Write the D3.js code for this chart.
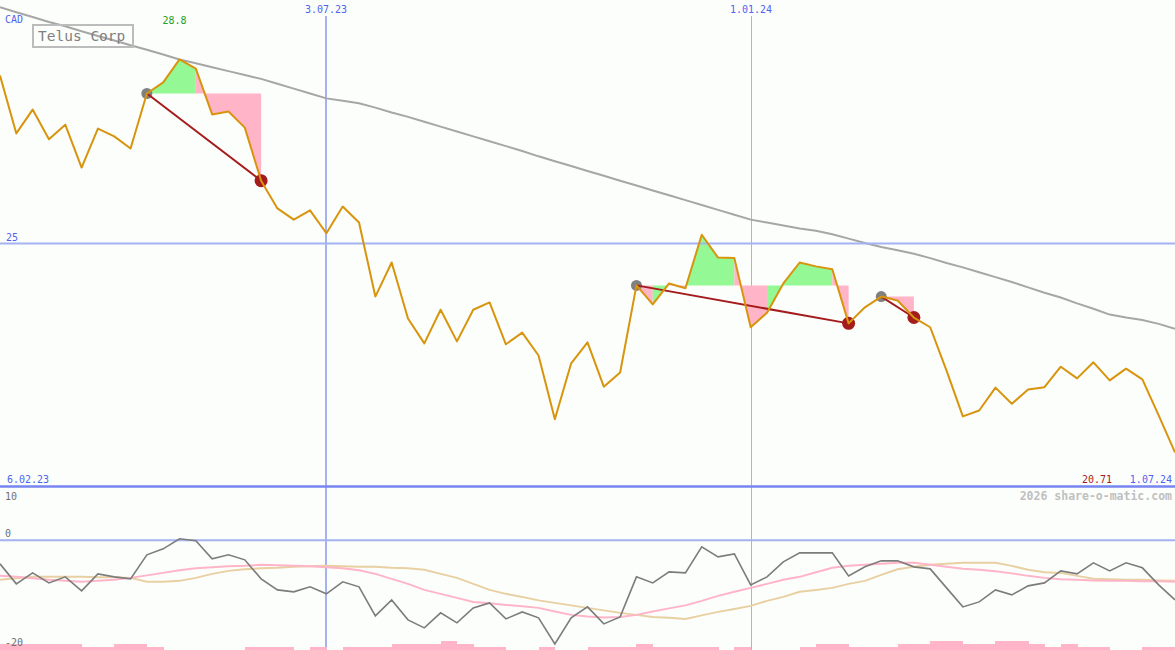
<!DOCTYPE html>
<html><head><meta charset="utf-8">
<script src="https://cdn.jsdelivr.net/npm/d3@7"></script>
<style>html,body{margin:0;padding:0;background:#fcfefc;overflow:hidden}svg{display:block}</style>
</head><body><svg id="c" width="1175" height="650"></svg>
<script>
// ---------- data ----------
const title = "Telus Corp";
const currency = "CAD";
const firstWeek = "13.02.23";
const price = [28.45,27.26,27.75,27.14,27.44,26.56,27.36,27.20,26.95,28.08,
  28.31,28.78,28.59,27.65,27.71,27.38,26.29,25.72,25.49,25.68,
  25.21,25.76,25.43,23.91,24.61,23.46,22.95,23.64,22.99,23.64,
  23.79,22.93,23.17,22.70,21.39,22.54,22.97,22.06,22.35,24.14,
  23.75,24.18,24.08,25.18,24.71,24.70,23.28,23.58,24.18,24.61,
  24.53,24.47,23.36,23.69,23.91,23.83,23.48,23.28,22.39,21.45,
  21.57,22.04,21.71,22.00,22.05,22.47,22.23,22.56,22.19,22.43,
  22.21,21.47,20.71];
const movingAvg = [29.85,29.75,29.65,29.55,29.46,29.36,29.26,29.17,29.07,28.98,
  28.88,28.78,28.70,28.62,28.54,28.46,28.38,28.28,28.18,28.08,
  27.98,27.93,27.88,27.79,27.69,27.60,27.50,27.40,27.30,27.20,
  27.10,27.00,26.90,26.79,26.69,26.59,26.49,26.39,26.29,26.19,
  26.09,25.99,25.89,25.79,25.69,25.59,25.49,25.43,25.37,25.31,
  25.26,25.19,25.10,25.01,24.93,24.86,24.79,24.70,24.60,24.51,
  24.41,24.31,24.21,24.10,23.99,23.89,23.77,23.66,23.54,23.48,
  23.43,23.35,23.25];
const osc = [-4.33,-8.01,-5.99,-7.83,-6.72,-9.30,-6.17,-6.72,-7.09,-2.67,
  -1.57,0.28,-0.09,-3.41,-2.67,-3.59,-7.09,-9.12,-9.48,-8.56,
  -9.85,-7.64,-8.56,-13.90,-10.96,-14.64,-16.11,-13.35,-15.19,-12.43,
  -11.51,-14.46,-13.17,-14.27,-19.06,-14.27,-12.25,-15.38,-14.09,-6.72,
  -7.83,-5.80,-5.99,-1.20,-3.04,-2.49,-8.20,-6.72,-3.96,-2.30,
  -2.30,-2.30,-6.54,-4.88,-3.78,-3.78,-4.88,-5.25,-8.75,-12.25,
  -11.33,-9.12,-10.04,-8.38,-7.83,-5.62,-6.17,-4.14,-5.62,-4.14,
  -5.06,-8.20,-10.96];
const oscFast = [-6.54,-6.72,-7.00,-7.27,-7.46,-7.64,-7.46,-7.27,-6.91,-6.45,
  -5.99,-5.52,-5.16,-4.97,-4.79,-4.70,-4.51,-4.60,-4.70,-4.79,
  -4.97,-5.16,-5.52,-6.17,-7.09,-8.01,-9.12,-9.85,-10.59,-11.33,
  -11.60,-11.88,-12.15,-12.43,-13.08,-13.72,-14.00,-14.18,-14.09,-13.72,
  -13.08,-12.52,-11.97,-11.14,-10.22,-9.48,-8.75,-8.01,-7.27,-6.72,
  -5.89,-5.06,-4.70,-4.51,-4.33,-4.14,-4.14,-4.51,-4.88,-5.25,
  -5.43,-5.71,-6.08,-6.54,-6.91,-7.18,-7.27,-7.37,-7.46,-7.46,
  -7.55,-7.55,-7.64];
const oscSlow = [-7.27,-7.00,-6.72,-6.72,-6.72,-6.72,-6.81,-6.81,-6.91,-7.64,
  -7.64,-7.46,-6.91,-6.17,-5.62,-5.34,-5.16,-5.06,-4.88,-4.79,
  -4.70,-4.79,-4.88,-4.88,-5.06,-5.16,-5.43,-6.17,-6.91,-8.01,
  -9.12,-9.85,-10.41,-11.05,-11.51,-11.97,-12.43,-12.89,-13.35,-13.72,
  -14.09,-14.27,-14.46,-13.81,-13.17,-12.62,-12.06,-11.14,-10.41,-9.48,
  -9.12,-8.75,-8.01,-7.46,-6.35,-5.34,-4.88,-4.51,-4.33,-4.14,
  -4.14,-4.14,-4.70,-5.43,-5.89,-5.99,-6.54,-7.09,-7.18,-7.27,
  -7.27,-7.37,-7.46];
const hist = [2,2,2,2,2,1,1,2,2,1,0,0,0,0,0,1,1,1,0,1,0,1,1,1,2,2,2,3,2,1,1,0,0,1,0,0,
  1,1,1,2,1,1,1,1,0,1,0,0,0,1,2,2,1,1,1,2,2,3,3,2,2,3,3,2,1,2,1,1,0,0,1,1];
const buyIdx = [9, 39, 54];
const sellIdx = [16, 52, 56];
const dateTicks = ["3.07.23", "1.01.24"];
const priceTicks = [25];
const oscTicks = [10, 0, -20];
const maxLabel = "28.8";
const minLabel = "20.71";
const leftDateLabel = "6.02.23";
const rightDateLabel = "1.07.24";
const credit = "2026 share-o-matic.com";

// ---------- setup ----------
const W = 1175, H = 650;
const svg = d3.select("#c");
const FONT = "DejaVu Sans Mono, Liberation Mono, monospace";
const parse = d3.timeParse("%d.%m.%y");
const t0 = parse(firstWeek);
const dates = price.map((_, i) => d3.timeDay.offset(t0, 7 * i));

const x = d3.scaleTime().domain([dates[0], dates[dates.length - 1]]).range([0, W]);
const y = d3.scaleLinear().domain([20, 30]).range([487, 0]);
const yo = d3.scaleLinear().domain([-20, 10]).range([649, 486]);
const yh = d3.scaleLinear().domain([0, 3]).range([650, 641]);

svg.append("rect").attr("width", W).attr("height", H).attr("fill", "#fcfefc");

// vertical date lines
dateTicks.forEach((d, k) => {
  const xx = Math.round(x(parse(d)));
  svg.append("line").attr("x1", xx + (k === 0 ? 0 : 0.5)).attr("x2", xx + (k === 0 ? 0 : 0.5))
    .attr("y1", 16).attr("y2", H)
    .attr("stroke", "#a4b2f2").attr("stroke-width", k === 0 ? 2 : 1);
  svg.append("text").attr("x", xx).attr("y", 13).attr("text-anchor", "middle")
    .attr("font-family", FONT).attr("font-size", 10).attr("fill", "#5064f0").text(d);
});

// moving average
svg.append("path").datum(movingAvg)
  .attr("d", d3.line().x((d, i) => x(dates[i])).y(d => y(d)))
  .attr("fill", "none").attr("stroke", "#a6a6a6").attr("stroke-width", 2);

// trade fills: consecutive weekly intervals of the same colour merged into one area
buyIdx.forEach((b, k) => {
  const s = sellIdx[k];
  const level = price[b];
  let i = b;
  while (i < s) {
    const up = price[i + 1] >= level;
    let j = i + 1;
    while (j < s && (price[j + 1] >= level) === up) j++;
    const idx = d3.range(i, j + 1);
    svg.append("path").datum(idx)
      .attr("d", d3.area().x(n => x(dates[n])).y0(y(level)).y1(n => y(price[n])))
      .attr("fill", up ? "#94f894" : "#ffb4c8");
    i = j;
  }
});

// horizontal grid
priceTicks.forEach(v => {
  svg.append("line").attr("x1", 0).attr("x2", W).attr("y1", y(v)).attr("y2", y(v))
    .attr("stroke", "#a4b2f2").attr("stroke-width", 2);
  svg.append("text").attr("x", 6).attr("y", y(v) - 2.5)
    .attr("font-family", FONT).attr("font-size", 10).attr("fill", "#5064f0").text(v);
});
svg.append("line").attr("x1", 0).attr("x2", W).attr("y1", yo(0)).attr("y2", yo(0))
  .attr("stroke", "#a4b2f2").attr("stroke-width", 2);
svg.append("line").attr("x1", 0).attr("x2", W).attr("y1", 486.5).attr("y2", 486.5)
  .attr("stroke", "#7885f0").attr("stroke-width", 2.5);

// circles
buyIdx.forEach(b => {
  svg.append("circle").attr("cx", x(dates[b])).attr("cy", y(price[b])).attr("r", 5.5).attr("fill", "#808080");
});
sellIdx.forEach(s => {
  svg.append("circle").attr("cx", x(dates[s])).attr("cy", y(price[s])).attr("r", 6.5).attr("fill", "#a41c1c");
});
// trade lines
buyIdx.forEach((b, k) => {
  const s = sellIdx[k];
  svg.append("line").attr("x1", x(dates[b])).attr("y1", y(price[b]))
    .attr("x2", x(dates[s])).attr("y2", y(price[s]))
    .attr("stroke", "#a41c1c").attr("stroke-width", 2);
});

// price line
svg.append("path").datum(price)
  .attr("d", d3.line().x((d, i) => x(dates[i])).y(d => y(d)))
  .attr("fill", "none").attr("stroke", "#d8940c").attr("stroke-width", 2)
  .attr("stroke-linejoin", "round");

// oscillator panel
svg.append("g").selectAll("rect").data(hist).join("rect")
  .attr("x", (d, i) => x(dates[i])).attr("width", (d, i) => x(dates[i + 1]) - x(dates[i]) + 0.5)
  .attr("y", d => yh(d)).attr("height", d => yh(0) - yh(d)).attr("fill", "#ffb4c8")
  .attr("shape-rendering", "crispEdges");

const oline = d3.line().x((d, i) => x(dates[i])).y(d => yo(d));
svg.append("path").datum(oscSlow).attr("d", oline).attr("fill", "none")
  .attr("stroke", "#e8d0a2").attr("stroke-width", 2);
svg.append("path").datum(oscFast).attr("d", oline).attr("fill", "none")
  .attr("stroke", "#ffb4c8").attr("stroke-width", 2);
svg.append("path").datum(osc).attr("d", oline).attr("fill", "none")
  .attr("stroke", "#7c7c7c").attr("stroke-width", 1.6);

oscTicks.forEach(v => {
  const yy = yo(v);
  const ty = yy - 3 < 495 ? yy + 14 : yy - 3;
  svg.append("text").attr("x", 5).attr("y", ty)
    .attr("font-family", FONT).attr("font-size", 10).attr("fill", "#707070").text(v);
});

// labels
svg.append("text").attr("x", 5).attr("y", 23).attr("font-family", FONT).attr("font-size", 10)
  .attr("fill", "#5064f0").text(currency);
svg.append("rect").attr("x", 33).attr("y", 25).attr("width", 100).attr("height", 22)
  .attr("fill", "none").attr("stroke", "#bcbcbc").attr("stroke-width", 2);
svg.append("text").attr("x", 38).attr("y", 41).attr("font-family", FONT).attr("font-size", 14.5)
  .attr("fill", "#808080").text(title);

const iMax = d3.maxIndex(price), iMin = d3.minIndex(price);
svg.append("text").attr("x", x(dates[iMax]) - 5).attr("y", 24).attr("text-anchor", "middle")
  .attr("font-family", FONT).attr("font-size", 10).attr("fill", "#22a022").text(maxLabel);
svg.append("text").attr("x", x(dates[iMin]) - 63).attr("y", 483).attr("text-anchor", "end")
  .attr("font-family", FONT).attr("font-size", 10).attr("fill", "#a41c1c").text(minLabel);
svg.append("text").attr("x", 7).attr("y", 483)
  .attr("font-family", FONT).attr("font-size", 10).attr("fill", "#5064f0").text(leftDateLabel);
svg.append("text").attr("x", W - 3).attr("y", 483).attr("text-anchor", "end")
  .attr("font-family", FONT).attr("font-size", 10).attr("fill", "#5064f0").text(rightDateLabel);
svg.append("text").attr("x", W - 3).attr("y", 500).attr("text-anchor", "end")
  .attr("font-family", FONT).attr("font-size", 11.5).attr("font-weight", "bold")
  .attr("fill", "#c0c0c0").text(credit);
</script>
</body></html>
